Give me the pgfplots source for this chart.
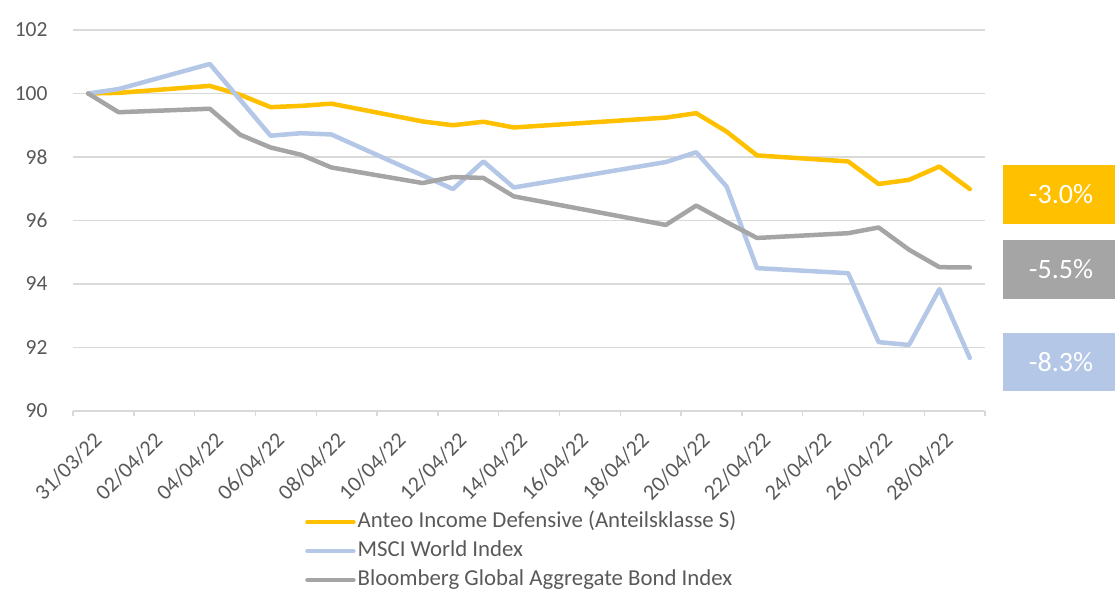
\documentclass[border=0pt]{standalone}
\usepackage{pgfplots}
\pgfplotsset{compat=1.18}
\usepackage{fontspec}
\setmainfont{Carlito}
\definecolor{cOrange}{HTML}{FFC000}
\definecolor{cBlue}{HTML}{B4C7E7}
\definecolor{cGray}{HTML}{A5A5A5}
\definecolor{cText}{HTML}{595959}
\definecolor{cGrid}{HTML}{D9D9D9}
\begin{document}
\begin{tikzpicture}
\useasboundingbox (0,0) rectangle (1115pt,592pt);
\begin{axis}[
  at={(73pt,181pt)}, anchor=south west,
  scale only axis, width=912pt, height=381pt,
  xmin=-0.5, xmax=29.5, ymin=90, ymax=102,
  ytick={90,92,...,102},
  xtick={0,2,...,28},
  xticklabels={31/03/22,02/04/22,04/04/22,06/04/22,08/04/22,10/04/22,12/04/22,14/04/22,16/04/22,18/04/22,20/04/22,22/04/22,24/04/22,26/04/22,28/04/22},
  minor xtick={-0.5,1.5,...,29.5},
  major tick length=0pt, minor tick length=5pt,
  tick align=outside, xtick pos=bottom, ytick pos=left,
  axis line style={draw=none},
  ymajorgrids=true, xmajorgrids=false,
  grid style={cGrid, line width=1.4pt},
  minor tick style={cGrid, line width=1.4pt},
  /pgf/number format/assume math mode=true,
  yticklabel style={font=\fontsize{21.5}{25}\selectfont, text=cText, xshift=-22pt},
  xticklabel style={font=\fontsize{22}{26}\selectfont, text=cText, inner sep=0pt, xshift=4pt, yshift=-20pt, rotate=45, anchor=north east},
  legend cell align=left,
  legend style={draw=none, fill=none, inner sep=0pt, at={(axis description cs:0.2544,-0.2585)}, anchor=north west,
    font=\fontsize{22.8}{27}\selectfont, text=cText, row sep=4pt,
    nodes={inner sep=2pt, text height=16pt, text depth=5pt}},
  legend image code/.code={\draw[#1, line width=4.5pt] (0pt,0pt) -- (46pt,0pt);},
  every axis plot/.append style={line width=4.5pt, line join=round, line cap=round},
]
\addplot[cOrange] coordinates {(0,100) (1,100.02) (4,100.24) (5,99.96) (6,99.57) (7,99.61) (8,99.68) (11,99.12) (12,99.00) (13,99.11) (14,98.93) (19,99.24) (20,99.38) (21,98.80) (22,98.05) (25,97.86) (26,97.15) (27,97.28) (28,97.70) (29,96.99)};
\addlegendentry{Anteo Income Defensive (Anteilsklasse S)}
\addplot[cBlue] coordinates {(0,100) (1,100.14) (4,100.93) (5,99.80) (6,98.67) (7,98.75) (8,98.71) (11,97.42) (12,96.99) (13,97.86) (14,97.04) (19,97.84) (20,98.15) (21,97.07) (22,94.50) (25,94.34) (26,92.17) (27,92.08) (28,93.84) (29,91.67)};
\addlegendentry{MSCI World Index}
\addplot[cGray] coordinates {(0,100) (1,99.41) (4,99.52) (5,98.70) (6,98.30) (7,98.07) (8,97.67) (11,97.18) (12,97.37) (13,97.34) (14,96.76) (19,95.86) (20,96.47) (21,95.95) (22,95.45) (25,95.60) (26,95.78) (27,95.08) (28,94.53) (29,94.52)};
\addlegendentry{Bloomberg Global Aggregate Bond Index}
\end{axis}
\fill[cOrange] (1003pt,368pt) rectangle (1116pt,427pt);
\fill[cGray] (1003pt,293pt) rectangle (1116pt,352pt);
\fill[cBlue] (1003pt,201pt) rectangle (1116pt,259pt);
\node[text=white, font=\fontsize{28}{32}\selectfont] at (1061pt,397.5pt) {-3.0\%};
\node[text=white, font=\fontsize{28}{32}\selectfont] at (1061pt,322.5pt) {-5.5\%};
\node[text=white, font=\fontsize{28}{32}\selectfont] at (1061pt,230pt) {-8.3\%};
\end{tikzpicture}
\end{document}
